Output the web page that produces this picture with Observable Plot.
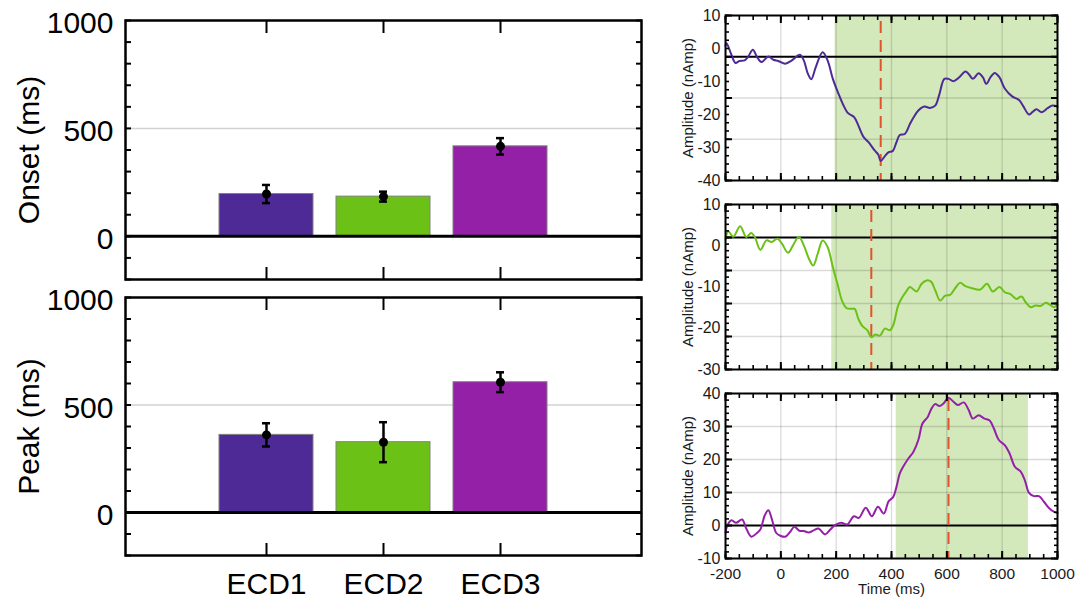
<!DOCTYPE html>
<html><head><meta charset="utf-8">
<script src="https://cdn.jsdelivr.net/npm/d3@7"></script>
<script src="https://cdn.jsdelivr.net/npm/@observablehq/plot@0.6"></script>
<style>
body{margin:0;background:#fff;}
#root{position:relative;width:1086px;height:601px;overflow:hidden;background:#fff;font-family:"Liberation Sans",Arial,sans-serif;}
#root svg{position:absolute;overflow:visible;}
</style></head><body><div id="root"></div>
<script>
// ---- data ----
const categories = ["ECD1", "ECD2", "ECD3"];
const barColors = ["#4e2a96", "#6cc116", "#9520a8"];
const onsetMean = [196, 184, 417];
const onsetErr = [42, 23, 38];
const peakMean = [361, 327, 606];
const peakErr = [54, 93, 46];
const barTickLabels = [0, 500, 1000];
const barGrid = [500];

const waveTimeLabels = [-200, 0, 200, 400, 600, 800, 1000];
const waveTimeGrid = [0, 200, 400, 600, 800];
const wave1YLabels = [10, 0, -10, -20, -30, -40];
const wave2YLabels = [10, 0, -10, -20, -30];
const wave3YLabels = [40, 30, 20, 10, 0, -10];
const wave1Grid = [-15, -27.5];
const wave2Grid = [-6, -14, -22];
const wave3Grid = [10, 20, 30];
const waveBaselines = [-2.5, 2, 0];
const shadeStart = [196, 184, 417];
const shadeEnd = [1000, 1000, 895];
const peakTimes = [361, 327, 606];

const wave1 = [[-200,0.9],[-196,1.6],[-180,-1.6],[-164,-4.4],[-150,-3.8],[-131,-3.6],[-119,-2.6],[-101,-0.4],[-86,-2.6],[-70,-4.1],[-45,-2.4],[-27,-3.4],[-9,-3.8],[16,-4.6],[40,-3.6],[69,-1.9],[83,-3.6],[98,-7.7],[110,-9.3],[126,-5.7],[151,-1.1],[169,-3.6],[188,-9.2],[206,-13.2],[224,-16.8],[243,-19.6],[265,-20.8],[280,-23.3],[298,-26.7],[317,-28.4],[339,-30.9],[352,-32.1],[361,-34.1],[376,-32.6],[390,-31.4],[404,-31.1],[418,-28.4],[430,-26.2],[448,-25.9],[467,-22.8],[479,-21],[497,-18.8],[519,-17.6],[539,-18],[558,-17.3],[572,-14.2],[591,-9.2],[606,-9.2],[624,-9.9],[645,-8.7],[667,-7],[679,-7.7],[694,-9.2],[715,-7.5],[730,-8.7],[743,-10.7],[758,-8.7],[773,-7.4],[790,-8.7],[810,-12.2],[836,-14.5],[861,-15.6],[875,-17.3],[897,-20],[909,-19.3],[924,-18.4],[943,-19.3],[964,-18.1],[982,-17.3],[1000,-17.6]];
const wave2 = [[-200,1.5],[-190,3.5],[-172,2.2],[-147,4.7],[-125,2.1],[-107,3.1],[-94,2.1],[-74,-1],[-52,1.3],[-33,0.9],[-12,1.7],[4,0.5],[26,-1.7],[44,0.1],[65,2.2],[83,0.1],[102,-3.2],[117,-4.8],[133,-2],[151,1.3],[169,-0.3],[188,-5.2],[206,-9.6],[221,-13.3],[237,-15.1],[255,-15.3],[267,-15.3],[280,-17.7],[295,-19.5],[313,-20.5],[327,-22.2],[342,-21.5],[358,-21.8],[376,-20.1],[394,-20.5],[406,-19.3],[424,-14.5],[439,-12.5],[451,-11.3],[467,-10],[479,-10.6],[491,-11.1],[509,-9.2],[527,-8.4],[543,-8.7],[558,-10.8],[576,-13.3],[594,-12.1],[612,-11.9],[630,-10.3],[648,-9],[667,-9.8],[691,-10.3],[721,-10.6],[745,-9.2],[766,-11.1],[790,-10],[810,-11.3],[830,-11.7],[851,-12.9],[870,-12.3],[885,-13.7],[903,-14.9],[921,-14.5],[939,-14.6],[958,-13.8],[972,-14.3],[988,-14.9],[1000,-14.2]];
const wave3 = [[-200,-2.2],[-193,0.1],[-178,1.6],[-162,0.8],[-140,1.8],[-125,-0.9],[-107,-3.4],[-88,-2.4],[-74,-1.2],[-58,3.1],[-45,4.6],[-33,2.1],[-17,-2.2],[-2,-3.1],[16,-3.4],[34,-1.9],[49,-0.4],[67,-1.6],[83,-1.7],[102,-2.1],[120,-1.4],[136,-0.9],[160,-2.7],[179,-1.2],[196,0.1],[218,0.8],[240,0.3],[264,2.8],[282,2.3],[307,5.4],[329,2.8],[351,5.7],[372,3.6],[390,7.4],[406,8.6],[418,11.7],[430,15.8],[442,17.8],[461,20.3],[479,22.3],[497,25.9],[512,30.9],[531,32.9],[545,35.5],[558,36.8],[573,36.2],[588,37],[606,38.7],[624,37.5],[640,36.5],[661,37.3],[679,35],[694,32.4],[715,33.4],[736,32.4],[754,31.9],[770,29.4],[788,25.9],[810,24.3],[827,21.8],[846,17.8],[867,16.3],[882,13.7],[897,9.9],[915,8.9],[933,8.9],[951,7.2],[970,5.2],[988,4.1],[1000,3.8]];

// ---- rendering ----
const FONT = '"Liberation Sans", Arial, sans-serif';
const root = document.getElementById("root");
function place(svg, left, top) {
  svg.style.left = left + "px";
  svg.style.top = top + "px";
  root.appendChild(svg);
}

function barPanel({means, errs, label, top, height, mTop, mBottom, showX}) {
  const rows = categories.map((c, i) => ({c, v: means[i], e: errs[i], color: barColors[i]}));
  const yTicks = d3.range(-200, 1001, 100);
  const svg = Plot.plot({
    width: 660, height, marginLeft: 125, marginRight: 19, marginTop: mTop, marginBottom: mBottom,
    style: {fontFamily: FONT, background: "transparent", color: "#000"},
    x: {type: "band", domain: categories, paddingInner: 0.2, paddingOuter: 0.8, align: 0.5},
    y: {domain: [-200, 1000]},
    marks: [
      Plot.gridY(barGrid, {stroke: "#d2d2d2", strokeOpacity: 1, strokeWidth: 1.5}),
      Plot.barY(rows, {x: "c", y: "v", fill: "color", stroke: "#808080", strokeWidth: 1}),
      Plot.ruleY([0], {stroke: "#000", strokeWidth: 3}),
      Plot.ruleX(rows, {x: "c", y1: d => d.v - d.e, y2: d => d.v + d.e, stroke: "#000", strokeWidth: 2.5}),
      Plot.tickY(rows, {x: "c", y: d => d.v - d.e, insetLeft: 43, insetRight: 43, stroke: "#000", strokeWidth: 2.5}),
      Plot.tickY(rows, {x: "c", y: d => d.v + d.e, insetLeft: 43, insetRight: 43, stroke: "#000", strokeWidth: 2.5}),
      Plot.dot(rows, {x: "c", y: "v", r: 4.5, fill: "#000"}),
      Plot.axisY(yTicks, {anchor: "left", tickSize: -6, fill: "none", strokeWidth: 2, label: null}),
      Plot.axisY(yTicks, {anchor: "right", tickSize: -6, fill: "none", strokeWidth: 2, label: null}),
      Plot.axisX(categories, {anchor: "top", tickSize: -12, fill: "none", strokeWidth: 2, label: null}),
      Plot.axisX(categories, {anchor: "bottom", tickSize: -12, fill: "none", strokeWidth: 2, label: null}),
      Plot.axisY(barTickLabels, {anchor: "left", tickSize: 0, tickPadding: 12, fontSize: 30, dy: 3, tickFormat: d => String(d), label: null}),
      showX ? Plot.axisX(categories, {anchor: "bottom", tickSize: 0, tickPadding: 17, fontSize: 30, label: null}) : null,
      Plot.text([label], {text: d => d, frameAnchor: "left", textAnchor: "middle", rotate: -90, dx: -96, fontSize: 30, fill: "#000"}),
      Plot.frame({stroke: "#000", strokeWidth: 2.5})
    ]
  });
  place(svg, 0, top);
}

function wavePanel({i, wave, color, yDomain, yLabels, yMinor, yMajor, hGrid, top, height, mTop, mBottom, showX}) {
  const tMinor = d3.range(-200, 1001, 50);
  const tMajor = d3.range(-200, 1001, 200);
  const svg = Plot.plot({
    width: 416, height, marginLeft: 55, marginRight: 29, marginTop: mTop, marginBottom: mBottom,
    style: {fontFamily: FONT, background: "transparent", color: "#000"},
    x: {domain: [-200, 1000]},
    y: {domain: yDomain},
    marks: [
      Plot.rect([[shadeStart[i], shadeEnd[i]]], {x1: d => d[0], x2: d => d[1], fill: "#d3e9bb"}),
      Plot.gridX(waveTimeGrid, {stroke: "#000", strokeOpacity: 0.14, strokeWidth: 1.3}),
      Plot.gridY(hGrid, {stroke: "#000", strokeOpacity: 0.14, strokeWidth: 1.3}),
      Plot.ruleY([waveBaselines[i]], {stroke: "#000", strokeWidth: 2}),
      Plot.ruleX([peakTimes[i]], {stroke: "#e0532b", strokeWidth: 2, strokeDasharray: "12,7", strokeDashoffset: -6}),
      Plot.line(wave, {x: d => d[0], y: d => d[1], stroke: color, strokeWidth: 2, curve: "catmull-rom"}),
      Plot.axisY(yMinor, {anchor: "left", tickSize: -4, fill: "none", strokeWidth: 1.6, label: null}),
      Plot.axisY(yMinor, {anchor: "right", tickSize: -4, fill: "none", strokeWidth: 1.6, label: null}),
      Plot.axisY(yMajor, {anchor: "left", tickSize: -7, fill: "none", strokeWidth: 2, label: null}),
      Plot.axisY(yMajor, {anchor: "right", tickSize: -7, fill: "none", strokeWidth: 2, label: null}),
      Plot.axisX(tMinor, {anchor: "top", tickSize: -4, fill: "none", strokeWidth: 1.6, label: null}),
      Plot.axisX(tMinor, {anchor: "bottom", tickSize: -4, fill: "none", strokeWidth: 1.6, label: null}),
      Plot.axisX(tMajor, {anchor: "top", tickSize: -7, fill: "none", strokeWidth: 2, label: null}),
      Plot.axisX(tMajor, {anchor: "bottom", tickSize: -7, fill: "none", strokeWidth: 2, label: null}),
      Plot.axisY(yLabels, {anchor: "left", tickSize: 0, tickPadding: 5, fontSize: 16, tickFormat: d => String(d), fill: "#1a1a1a", label: null}),
      showX ? Plot.axisX(waveTimeLabels, {anchor: "bottom", tickSize: 0, tickPadding: 9, fontSize: 15.5, tickFormat: d => String(d), fill: "#1a1a1a", label: null}) : null,
      showX ? Plot.text(["Time (ms)"], {text: d => d, frameAnchor: "bottom", dy: 35, fontSize: 15, fill: "#1a1a1a"}) : null,
      Plot.text(["Amplitude (nAmp)"], {text: d => d, frameAnchor: "left", textAnchor: "middle", rotate: -90, dx: -37, fontSize: 15, fill: "#1a1a1a"}),
      Plot.frame({stroke: "#000", strokeWidth: 2})
    ]
  });
  place(svg, 670, top);
}

barPanel({means: onsetMean, errs: onsetErr, label: "Onset (ms)", top: 0, height: 285, mTop: 20, mBottom: 6, showX: false});
barPanel({means: peakMean, errs: peakErr, label: "Peak (ms)", top: 285, height: 316, mTop: 12, mBottom: 46, showX: true});

wavePanel({i: 0, wave: wave1, color: "#4e2a96", yDomain: [-40, 10], yLabels: wave1YLabels,
  yMinor: d3.range(0, 21).map(k => 10 - 2.5 * k), yMajor: [10, -2.5, -15, -27.5, -40], hGrid: wave1Grid,
  top: 0, height: 190, mTop: 15, mBottom: 10, showX: false});
wavePanel({i: 1, wave: wave2, color: "#6cc116", yDomain: [-30, 10], yLabels: wave2YLabels,
  yMinor: d3.range(0, 26).map(k => 10 - 1.6 * k), yMajor: [10, 2, -6, -14, -22, -30], hGrid: wave2Grid,
  top: 190, height: 190, mTop: 14, mBottom: 11, showX: false});
wavePanel({i: 2, wave: wave3, color: "#9520a8", yDomain: [-10, 40], yLabels: wave3YLabels,
  yMinor: d3.range(-10, 41, 2), yMajor: [-10, 0, 10, 20, 30, 40], hGrid: wave3Grid,
  top: 380, height: 221, mTop: 13, mBottom: 43, showX: true});
</script>
</body></html>
